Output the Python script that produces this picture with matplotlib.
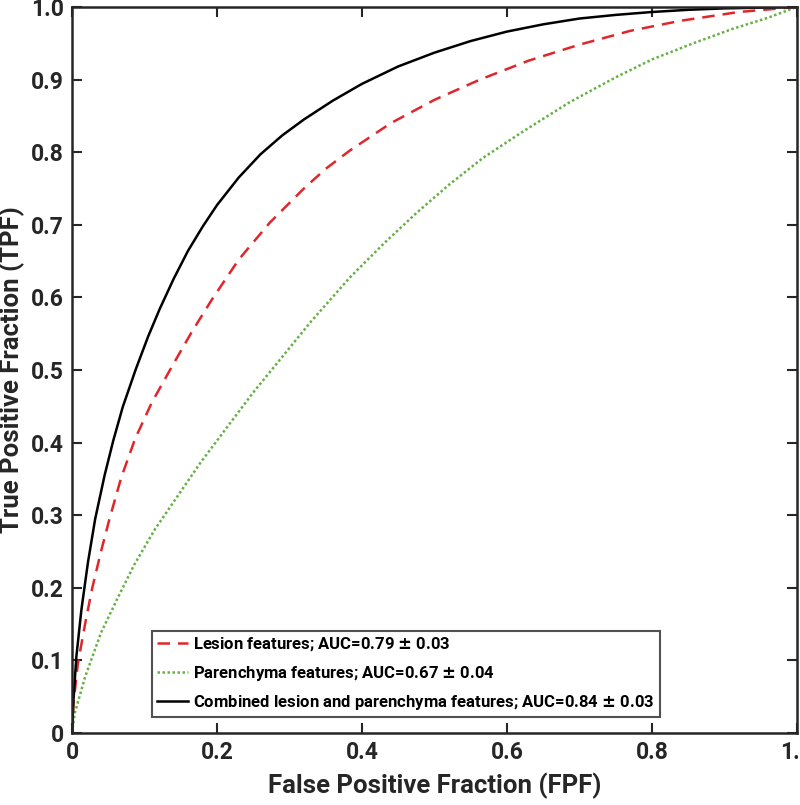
import matplotlib
matplotlib.use("Agg")
import matplotlib.pyplot as plt

plt.rcParams['font.family'] = ['Roboto', 'DejaVu Sans']
plt.rcParams['font.weight'] = 'bold'

# Lesion features (red dashed)
lesion_fpf = [0.0, 0.002, 0.008, 0.018, 0.028, 0.04, 0.052, 0.068, 0.087, 0.11, 0.138, 0.165, 0.193, 0.23, 0.273, 0.32, 0.35, 0.383, 0.44, 0.5, 0.563, 0.63, 0.7, 0.77, 0.84, 0.92, 1.0]
lesion_tpf = [0.0, 0.04, 0.095, 0.15, 0.2, 0.25, 0.296, 0.352, 0.405, 0.455, 0.505, 0.552, 0.597, 0.652, 0.703, 0.75, 0.777, 0.802, 0.84, 0.872, 0.9, 0.926, 0.948, 0.967, 0.981, 0.993, 1.0]

# Parenchyma features (green dotted)
paren_fpf = [0.0, 0.004, 0.018, 0.04, 0.063, 0.086, 0.114, 0.14, 0.177, 0.21, 0.25, 0.29, 0.33, 0.383, 0.43, 0.475, 0.52, 0.567, 0.62, 0.687, 0.75, 0.801, 0.86, 0.912, 0.96, 1.0]
paren_tpf = [0.0, 0.028, 0.077, 0.138, 0.186, 0.232, 0.28, 0.318, 0.372, 0.416, 0.469, 0.518, 0.567, 0.627, 0.674, 0.716, 0.755, 0.792, 0.827, 0.869, 0.903, 0.928, 0.951, 0.97, 0.985, 1.0]

# Combined lesion and parenchyma features (black solid)
comb_fpf = [0.0, 0.002, 0.006, 0.013, 0.022, 0.032, 0.045, 0.057, 0.07, 0.088, 0.105, 0.121, 0.14, 0.16, 0.18, 0.2, 0.23, 0.26, 0.29, 0.32, 0.36, 0.4, 0.45, 0.5, 0.55, 0.6, 0.65, 0.7, 0.75, 0.8, 0.85, 0.9, 0.95, 1.0]
comb_tpf = [0.0, 0.045, 0.105, 0.17, 0.235, 0.295, 0.355, 0.403, 0.449, 0.501, 0.546, 0.584, 0.625, 0.664, 0.697, 0.727, 0.765, 0.797, 0.823, 0.845, 0.871, 0.894, 0.918, 0.937, 0.953, 0.966, 0.976, 0.984, 0.989, 0.993, 0.996, 0.998, 0.999, 1.0]

labels = ["Lesion features; AUC=0.79 $\\pm$ 0.03",
          "Parenchyma features; AUC=0.67 $\\pm$ 0.04",
          "Combined lesion and parenchyma features; AUC=0.84 $\\pm$ 0.03"]
ticks = [0, 0.1, 0.2, 0.3, 0.4, 0.5, 0.6, 0.7, 0.8, 0.9, 1.0]
tick_labels = ['0', '0.1', '0.2', '0.3', '0.4', '0.5', '0.6', '0.7', '0.8', '0.9', '1.0']
xticks = [0, 0.2, 0.4, 0.6, 0.8, 1.0]
xtick_labels = ['0', '0.2', '0.4', '0.6', '0.8', '1.0']

fig = plt.figure(figsize=(8, 8.05), dpi=100)
ax = fig.add_axes([0.09, 0.0894, 0.906, 0.902])

ax.plot(lesion_fpf, lesion_tpf, color='#e0262b', linestyle=(0, (5, 3.2)), linewidth=1.8, label=labels[0])
ax.plot(paren_fpf, paren_tpf, color='#66b044', linestyle=(0, (1, 1)), linewidth=1.8, label=labels[1])
ax.plot(comb_fpf, comb_tpf, color='black', linestyle='-', linewidth=1.8, label=labels[2])

ax.set_xlim(0, 1)
ax.set_ylim(0, 1)
ax.set_xticks(xticks)
ax.set_xticklabels(xtick_labels)
ax.set_yticks(ticks)
ax.set_yticklabels(tick_labels)
ax.tick_params(direction='in', length=7, width=1.5, top=True, right=True,
               labelsize=16.5, colors='#262626', pad=6)
for lab in ax.get_xticklabels() + ax.get_yticklabels():
    lab.set_fontweight('bold')
for s in ax.spines.values():
    s.set_linewidth(1.8)
    s.set_color('#262626')

ax.set_xlabel('False Positive Fraction (FPF)', fontsize=18.5, fontweight='bold', color='#262626', labelpad=6)
ax.set_ylabel('True Positive Fraction (TPF)', fontsize=18.5, fontweight='bold', color='#262626', labelpad=4)

leg = ax.legend(loc='lower right', bbox_to_anchor=(0.811, 0.022), fontsize=12,
                frameon=True, fancybox=False, handlelength=1.9, handletextpad=0.3,
                borderpad=0.3, labelspacing=0.62, borderaxespad=0)
leg.get_frame().set_edgecolor('#262626')
leg.get_frame().set_linewidth(1.5)
for t in leg.get_texts():
    t.set_fontweight('bold')

fig.savefig('out.png', dpi=100)
